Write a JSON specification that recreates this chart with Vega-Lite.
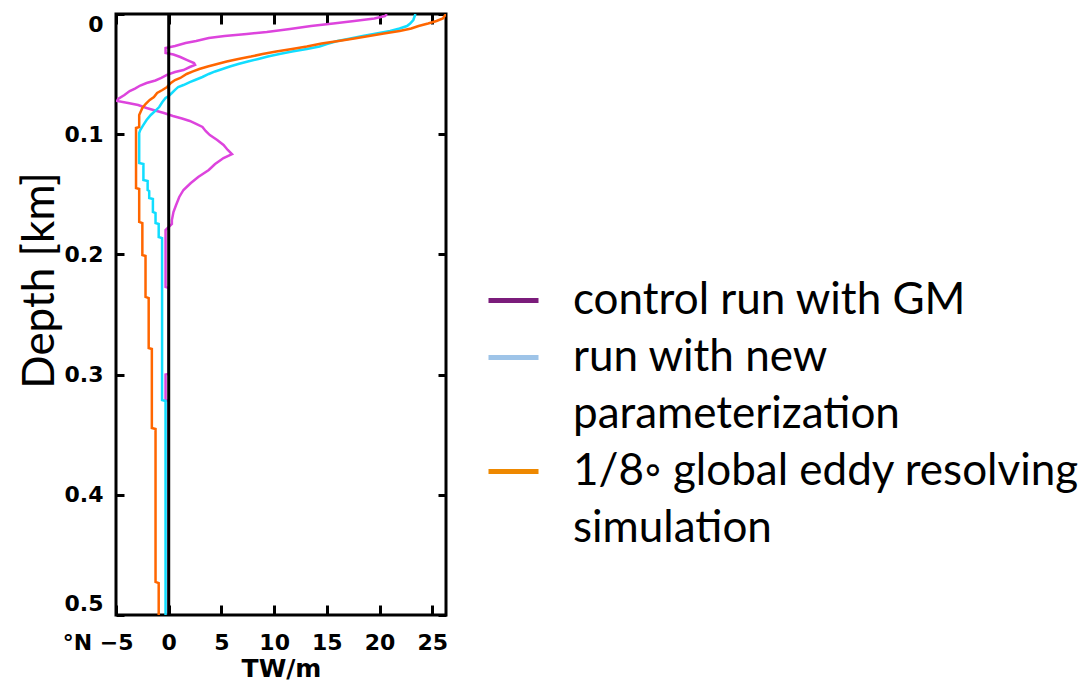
{
  "$schema": "https://vega.github.io/schema/vega-lite/v6.json",
  "width": 330,
  "height": 601,
  "autosize": "none",
  "padding": {"left": 116, "top": 14, "right": 645, "bottom": 66},
  "background": "white",
  "config": {
    "view": {"stroke": "black", "strokeWidth": 3},
    "axis": {
      "grid": false,
      "domain": false,
      "tickColor": "black",
      "tickWidth": 3,
      "labelColor": "black",
      "labelFont": "DejaVu Sans",
      "labelFontWeight": "bold",
      "labelFontSize": 22,
      "titleColor": "black",
      "labelOverlap": false
    }
  },
  "data": {
    "values": [
      {"s": "gm", "d": 0, "v": 20.7}, {"s": "gm", "d": 0.0017, "v": 20.5}, {"s": "gm", "d": 0.0037, "v": 19.5},
      {"s": "gm", "d": 0.0058, "v": 17.6}, {"s": "gm", "d": 0.0079, "v": 15.6}, {"s": "gm", "d": 0.01, "v": 13.5},
      {"s": "gm", "d": 0.0125, "v": 11.5}, {"s": "gm", "d": 0.015, "v": 9.3}, {"s": "gm", "d": 0.0166, "v": 7.4},
      {"s": "gm", "d": 0.0183, "v": 5.3}, {"s": "gm", "d": 0.02, "v": 3.8}, {"s": "gm", "d": 0.0225, "v": 2.6},
      {"s": "gm", "d": 0.0241, "v": 1.6}, {"s": "gm", "d": 0.0266, "v": 0.6}, {"s": "gm", "d": 0.0283, "v": -0.3},
      {"s": "gm", "d": 0.0324, "v": -0.3}, {"s": "gm", "d": 0.0337, "v": 0.45}, {"s": "gm", "d": 0.0358, "v": 1.1},
      {"s": "gm", "d": 0.0383, "v": 1.75}, {"s": "gm", "d": 0.0408, "v": 2.4}, {"s": "gm", "d": 0.0424, "v": 2.5},
      {"s": "gm", "d": 0.0441, "v": 2.0}, {"s": "gm", "d": 0.0466, "v": 1.4}, {"s": "gm", "d": 0.0483, "v": 0.6},
      {"s": "gm", "d": 0.0507, "v": -0.17}, {"s": "gm", "d": 0.0532, "v": -0.7}, {"s": "gm", "d": 0.0553, "v": -1.26},
      {"s": "gm", "d": 0.0574, "v": -2.1}, {"s": "gm", "d": 0.0595, "v": -2.7}, {"s": "gm", "d": 0.062, "v": -3.2},
      {"s": "gm", "d": 0.0641, "v": -3.7}, {"s": "gm", "d": 0.0674, "v": -4.2}, {"s": "gm", "d": 0.0707, "v": -4.8},
      {"s": "gm", "d": 0.0724, "v": -4.9}, {"s": "gm", "d": 0.074, "v": -3.85}, {"s": "gm", "d": 0.0757, "v": -2.9},
      {"s": "gm", "d": 0.0782, "v": -2.1}, {"s": "gm", "d": 0.0803, "v": -1.3}, {"s": "gm", "d": 0.0824, "v": -0.45},
      {"s": "gm", "d": 0.0849, "v": 0.4}, {"s": "gm", "d": 0.0869, "v": 1.26}, {"s": "gm", "d": 0.089, "v": 2.0},
      {"s": "gm", "d": 0.0915, "v": 2.6}, {"s": "gm", "d": 0.094, "v": 3.2}, {"s": "gm", "d": 0.0973, "v": 3.5},
      {"s": "gm", "d": 0.1007, "v": 3.9}, {"s": "gm", "d": 0.1048, "v": 4.6}, {"s": "gm", "d": 0.109, "v": 5.2},
      {"s": "gm", "d": 0.1131, "v": 5.6}, {"s": "gm", "d": 0.1165, "v": 6.0}, {"s": "gm", "d": 0.1198, "v": 5.2},
      {"s": "gm", "d": 0.1248, "v": 4.4}, {"s": "gm", "d": 0.1298, "v": 3.8}, {"s": "gm", "d": 0.1356, "v": 2.8},
      {"s": "gm", "d": 0.1406, "v": 2.1}, {"s": "gm", "d": 0.1464, "v": 1.4}, {"s": "gm", "d": 0.1522, "v": 1.0},
      {"s": "gm", "d": 0.1589, "v": 0.7}, {"s": "gm", "d": 0.1647, "v": 0.45}, {"s": "gm", "d": 0.1714, "v": 0.3},
      {"s": "gm", "d": 0.1747, "v": 0.3}, {"s": "gm", "d": 0.1797, "v": -0.3}, {"s": "gm", "d": 0.227, "v": -0.3},
      {"s": "gm", "d": 0.228, "v": 0}, {"s": "gm", "d": 0.2995, "v": 0}, {"s": "gm", "d": 0.3, "v": -0.3},
      {"s": "gm", "d": 0.321, "v": -0.3}, {"s": "gm", "d": 0.322, "v": 0}, {"s": "gm", "d": 0.5, "v": 0},

      {"s": "new", "d": 0, "v": 23.4}, {"s": "new", "d": 0.0025, "v": 23.3}, {"s": "new", "d": 0.005, "v": 23.2},
      {"s": "new", "d": 0.0079, "v": 22.9}, {"s": "new", "d": 0.01, "v": 22.6}, {"s": "new", "d": 0.0121, "v": 21.9},
      {"s": "new", "d": 0.0141, "v": 21.0}, {"s": "new", "d": 0.0162, "v": 19.7}, {"s": "new", "d": 0.0183, "v": 18.4},
      {"s": "new", "d": 0.0208, "v": 17.0}, {"s": "new", "d": 0.0225, "v": 16.0}, {"s": "new", "d": 0.025, "v": 15.0},
      {"s": "new", "d": 0.027, "v": 14.3}, {"s": "new", "d": 0.0291, "v": 13.1}, {"s": "new", "d": 0.0312, "v": 11.7},
      {"s": "new", "d": 0.0333, "v": 10.5}, {"s": "new", "d": 0.0354, "v": 9.4}, {"s": "new", "d": 0.0374, "v": 8.5},
      {"s": "new", "d": 0.0395, "v": 7.5}, {"s": "new", "d": 0.0416, "v": 6.6}, {"s": "new", "d": 0.0437, "v": 5.8},
      {"s": "new", "d": 0.0458, "v": 5.1}, {"s": "new", "d": 0.0478, "v": 4.4}, {"s": "new", "d": 0.0499, "v": 3.8},
      {"s": "new", "d": 0.0524, "v": 3.2}, {"s": "new", "d": 0.0549, "v": 2.5}, {"s": "new", "d": 0.0566, "v": 2.0},
      {"s": "new", "d": 0.0591, "v": 1.4}, {"s": "new", "d": 0.0607, "v": 0.9}, {"s": "new", "d": 0.0632, "v": 0.6},
      {"s": "new", "d": 0.0657, "v": 0.3}, {"s": "new", "d": 0.0682, "v": 0.0}, {"s": "new", "d": 0.0699, "v": -0.3},
      {"s": "new", "d": 0.0732, "v": -0.6}, {"s": "new", "d": 0.0774, "v": -0.9}, {"s": "new", "d": 0.0799, "v": -1.2},
      {"s": "new", "d": 0.084, "v": -1.7}, {"s": "new", "d": 0.0882, "v": -2.1}, {"s": "new", "d": 0.0923, "v": -2.4},
      {"s": "new", "d": 0.0965, "v": -2.7}, {"s": "new", "d": 0.099, "v": -2.8}, {"s": "new", "d": 0.124, "v": -2.8},
      {"s": "new", "d": 0.1248, "v": -2.4}, {"s": "new", "d": 0.1381, "v": -2.4}, {"s": "new", "d": 0.1389, "v": -2.0},
      {"s": "new", "d": 0.1464, "v": -2.0}, {"s": "new", "d": 0.1473, "v": -1.85}, {"s": "new", "d": 0.1531, "v": -1.85},
      {"s": "new", "d": 0.1539, "v": -1.5}, {"s": "new", "d": 0.1647, "v": -1.5}, {"s": "new", "d": 0.1656, "v": -1.25},
      {"s": "new", "d": 0.1739, "v": -1.25}, {"s": "new", "d": 0.1747, "v": -0.95}, {"s": "new", "d": 0.1855, "v": -0.95},
      {"s": "new", "d": 0.1864, "v": -0.63}, {"s": "new", "d": 0.3211, "v": -0.63}, {"s": "new", "d": 0.322, "v": -0.3},
      {"s": "new", "d": 0.5, "v": -0.3},

      {"s": "eddy", "d": 0, "v": 26.3}, {"s": "eddy", "d": 0.0037, "v": 26.0}, {"s": "eddy", "d": 0.0058, "v": 25.4},
      {"s": "eddy", "d": 0.0079, "v": 24.6}, {"s": "eddy", "d": 0.01, "v": 23.7}, {"s": "eddy", "d": 0.0121, "v": 23.0},
      {"s": "eddy", "d": 0.0141, "v": 21.9}, {"s": "eddy", "d": 0.0162, "v": 20.4}, {"s": "eddy", "d": 0.0183, "v": 19.0},
      {"s": "eddy", "d": 0.0204, "v": 17.6}, {"s": "eddy", "d": 0.0225, "v": 16.1}, {"s": "eddy", "d": 0.0245, "v": 14.5},
      {"s": "eddy", "d": 0.027, "v": 13.1}, {"s": "eddy", "d": 0.0291, "v": 11.7}, {"s": "eddy", "d": 0.0312, "v": 10.2},
      {"s": "eddy", "d": 0.0333, "v": 8.9}, {"s": "eddy", "d": 0.0354, "v": 7.8}, {"s": "eddy", "d": 0.0374, "v": 6.6},
      {"s": "eddy", "d": 0.0395, "v": 5.5}, {"s": "eddy", "d": 0.0416, "v": 4.6}, {"s": "eddy", "d": 0.0437, "v": 3.7},
      {"s": "eddy", "d": 0.0458, "v": 2.9}, {"s": "eddy", "d": 0.0478, "v": 2.3}, {"s": "eddy", "d": 0.0499, "v": 1.7},
      {"s": "eddy", "d": 0.0532, "v": 1.1}, {"s": "eddy", "d": 0.0549, "v": 0.6}, {"s": "eddy", "d": 0.0574, "v": 0.2},
      {"s": "eddy", "d": 0.0607, "v": -0.15}, {"s": "eddy", "d": 0.0632, "v": -0.6}, {"s": "eddy", "d": 0.0657, "v": -1.1},
      {"s": "eddy", "d": 0.0691, "v": -1.4}, {"s": "eddy", "d": 0.0715, "v": -1.8}, {"s": "eddy", "d": 0.0749, "v": -2.2},
      {"s": "eddy", "d": 0.0782, "v": -2.5}, {"s": "eddy", "d": 0.084, "v": -2.8}, {"s": "eddy", "d": 0.094, "v": -2.8},
      {"s": "eddy", "d": 0.0948, "v": -3.1}, {"s": "eddy", "d": 0.1448, "v": -3.1}, {"s": "eddy", "d": 0.1456, "v": -2.8},
      {"s": "eddy", "d": 0.173, "v": -2.8}, {"s": "eddy", "d": 0.1739, "v": -2.5}, {"s": "eddy", "d": 0.2005, "v": -2.5},
      {"s": "eddy", "d": 0.2013, "v": -2.2}, {"s": "eddy", "d": 0.2354, "v": -2.2}, {"s": "eddy", "d": 0.2363, "v": -1.9},
      {"s": "eddy", "d": 0.2779, "v": -1.9}, {"s": "eddy", "d": 0.2787, "v": -1.6}, {"s": "eddy", "d": 0.3444, "v": -1.6},
      {"s": "eddy", "d": 0.3453, "v": -1.25}, {"s": "eddy", "d": 0.4725, "v": -1.25}, {"s": "eddy", "d": 0.4734, "v": -0.95},
      {"s": "eddy", "d": 0.5, "v": -0.95}
    ]
  },
  "layer": [
    {
      "mark": {"type": "line", "strokeWidth": 2.5, "clip": true},
      "encoding": {
        "x": {
          "field": "v",
          "type": "quantitative",
          "scale": {"domain": [-5, 26.3], "nice": false, "zero": false},
          "axis": {
            "orient": "bottom",
            "values": [-5, 0, 5, 10, 15, 20, 25],
            "tickSize": -10,
            "labelPadding": 27,
            "labelFlush": false,
            "labelExpr": "datum.value == -5 ? '°N   ' + datum.label : datum.label",
            "labelAlign": {"condition": {"test": "datum.value == -5", "value": "right"}, "value": "center"},
            "labelOffset": {"condition": {"test": "datum.value == -5", "value": 17}, "value": 0},
            "title": "TW/m",
            "titleFont": "DejaVu Sans",
            "titleFontWeight": "bold",
            "titleFontSize": 25,
            "titleBaseline": "alphabetic",
            "titleY": 61
          }
        },
        "y": {
          "field": "d",
          "type": "quantitative",
          "scale": {"domain": [0, 0.5], "reverse": true, "nice": false, "zero": false},
          "axis": {
            "orient": "left",
            "values": [0, 0.1, 0.2, 0.3, 0.4, 0.5],
            "tickSize": -8,
            "labelPadding": 21,
            "labelFlush": true,
            "labelExpr": "datum.value == 0 ? '0' : format(datum.value, '.1f')",
            "title": "Depth [km]",
            "titleFont": "Lato",
            "titleFontWeight": "normal",
            "titleFontSize": 44,
            "titleAngle": -90,
            "titleAlign": "center",
            "titleBaseline": "alphabetic",
            "titleX": -63,
            "titleY": 266
          }
        },
        "stroke": {
          "field": "s",
          "type": "nominal",
          "scale": {"domain": ["gm", "new", "eddy"], "range": ["#DD44DD", "#11DDFF", "#FF6600"]},
          "legend": null
        },
        "order": {"field": "d", "type": "quantitative"}
      }
    },
    {
      "transform": [{"filter": "false"}],
      "mark": {"type": "line", "strokeWidth": 5},
      "encoding": {
        "x": {"field": "v", "type": "quantitative", "axis": null},
        "y": {"field": "d", "type": "quantitative", "axis": null},
        "color": {
          "field": "s",
          "type": "nominal",
          "scale": {
            "domain": ["gm", "new", "new2", "eddy", "eddy2"],
            "range": ["#7B1C7B", "#9EC4E8", "transparent", "#EE8800", "transparent"]
          },
          "legend": {
            "orient": "none",
            "legendX": 370,
            "legendY": 259,
            "title": null,
            "padding": 0,
            "symbolType": "stroke",
            "symbolSize": 2500,
            "symbolStrokeWidth": 5,
            "symbolOpacity": 1,
            "labelFont": "Lato",
            "labelFontSize": 44,
            "labelColor": "black",
            "labelLimit": 1000,
            "labelOffset": 32,
            "rowPadding": 7,
            "labelExpr": "datum.value == 'gm' ? 'control run with GM' : datum.value == 'new' ? 'run with new' : datum.value == 'new2' ? 'parameterization' : datum.value == 'eddy' ? '\u00a0\u00a01/8◦ global eddy resolving' : 'simulation'"
          }
        }
      }
    },
    {
      "data": {"values": [{}]},
      "mark": {"type": "rule", "color": "black", "strokeWidth": 3},
      "encoding": {"x": {"datum": 0, "type": "quantitative", "axis": null}}
    },
    {
      "mark": {"type": "point", "opacity": 0},
      "encoding": {
        "x": {
          "field": "v",
          "type": "quantitative",
          "axis": {"orient": "top", "values": [-5, 0, 5, 10, 15, 20, 25], "labels": false, "title": null, "tickSize": -10}
        },
        "y": {
          "field": "d",
          "type": "quantitative",
          "axis": {"orient": "right", "values": [0, 0.1, 0.2, 0.3, 0.4, 0.5], "labels": false, "title": null, "tickSize": -8}
        }
      }
    }
  ],
  "resolve": {"axis": {"x": "independent", "y": "independent"}}
}
